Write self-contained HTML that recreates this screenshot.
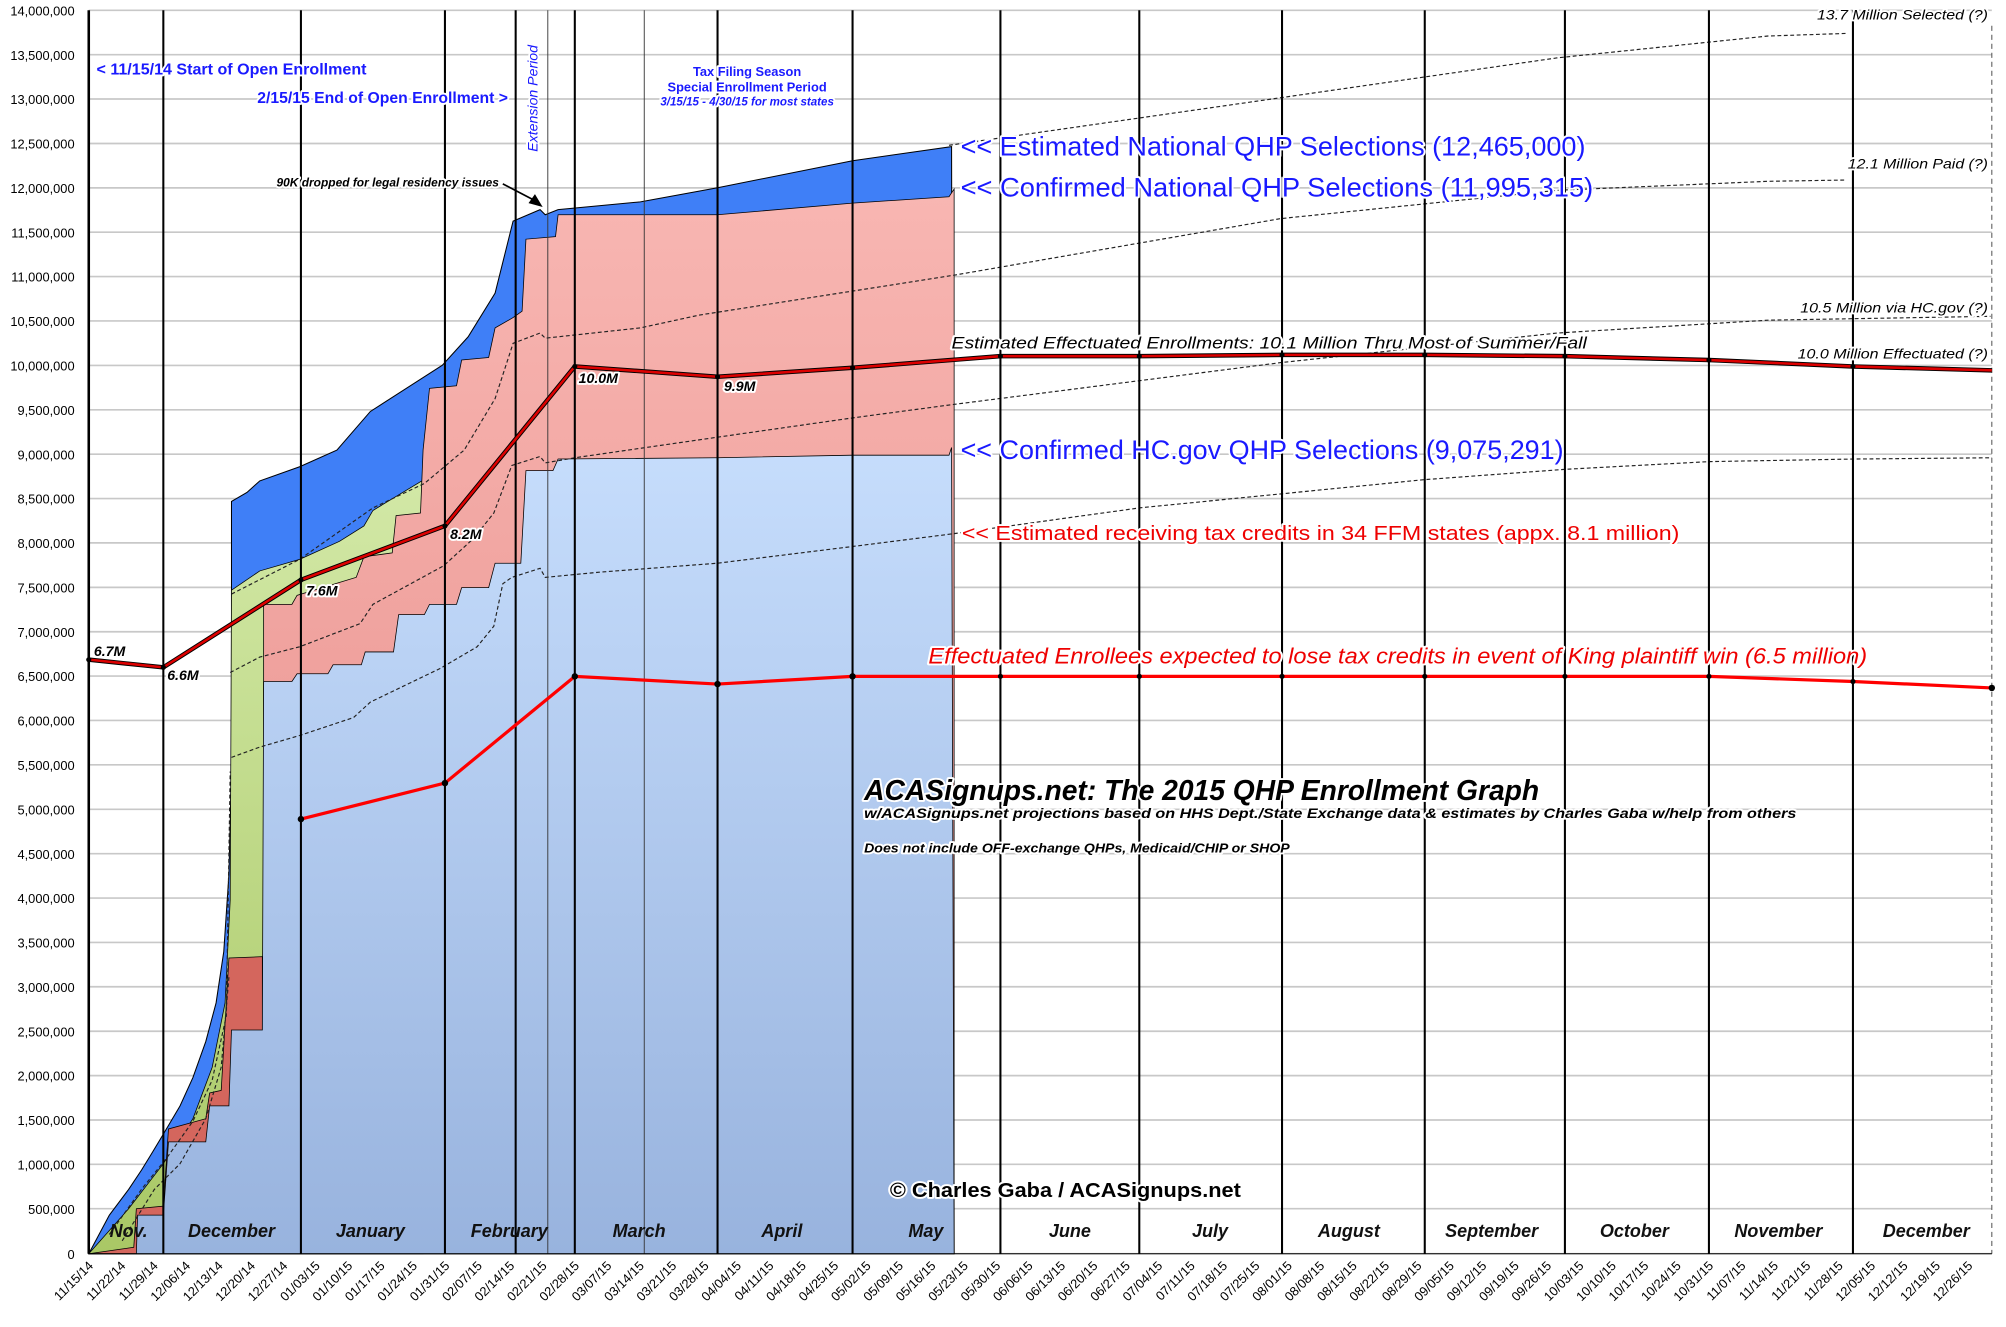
<!DOCTYPE html>
<html><head><meta charset="utf-8"><style>
html,body{margin:0;padding:0;background:#fff;}
svg{display:block;}
text{font-family:"Liberation Sans",sans-serif;}
.h{paint-order:stroke;stroke:#fff;stroke-width:3;stroke-linejoin:round;}
.yl{font-size:10px;text-anchor:end;fill:#000;}
.xl{font-size:10px;text-anchor:end;fill:#000;}
.mo{font-size:14px;font-weight:bold;font-style:italic;text-anchor:middle;fill:#111;}
.rl{font-size:11px;font-style:italic;text-anchor:end;fill:#000;}
</style></head><body>
<svg width="2006" height="1327" viewBox="0 0 1560 1032" xmlns="http://www.w3.org/2000/svg">
<defs>
<linearGradient id="lb" x1="0" y1="0" x2="0" y2="1"><stop offset="0" stop-color="#c6ddfc"/><stop offset="1" stop-color="#98b3de"/></linearGradient>
<linearGradient id="pk" x1="0" y1="0" x2="0" y2="1"><stop offset="0" stop-color="#f8b6b2"/><stop offset="1" stop-color="#e58985"/></linearGradient>
<linearGradient id="gr" x1="0" y1="0" x2="0" y2="1"><stop offset="0" stop-color="#d2e8a6"/><stop offset="1" stop-color="#a9c865"/></linearGradient>
</defs>
<!-- gridlines -->
<g stroke="#c8c8c8" stroke-width="1.3">
<line x1="69" x2="1549" y1="8" y2="8"/><line x1="69" x2="1549" y1="42.5" y2="42.5"/><line x1="69" x2="1549" y1="77" y2="77"/><line x1="69" x2="1549" y1="111.6" y2="111.6"/><line x1="69" x2="1549" y1="146.1" y2="146.1"/><line x1="69" x2="1549" y1="180.6" y2="180.6"/><line x1="69" x2="1549" y1="215.1" y2="215.1"/><line x1="69" x2="1549" y1="249.6" y2="249.6"/><line x1="69" x2="1549" y1="284.2" y2="284.2"/><line x1="69" x2="1549" y1="318.7" y2="318.7"/><line x1="69" x2="1549" y1="353.2" y2="353.2"/><line x1="69" x2="1549" y1="387.7" y2="387.7"/><line x1="69" x2="1549" y1="422.2" y2="422.2"/><line x1="69" x2="1549" y1="456.8" y2="456.8"/><line x1="69" x2="1549" y1="491.3" y2="491.3"/><line x1="69" x2="1549" y1="525.8" y2="525.8"/><line x1="69" x2="1549" y1="560.3" y2="560.3"/><line x1="69" x2="1549" y1="594.8" y2="594.8"/><line x1="69" x2="1549" y1="629.4" y2="629.4"/><line x1="69" x2="1549" y1="663.9" y2="663.9"/><line x1="69" x2="1549" y1="698.4" y2="698.4"/><line x1="69" x2="1549" y1="732.9" y2="732.9"/><line x1="69" x2="1549" y1="767.4" y2="767.4"/><line x1="69" x2="1549" y1="802" y2="802"/><line x1="69" x2="1549" y1="836.5" y2="836.5"/><line x1="69" x2="1549" y1="871" y2="871"/><line x1="69" x2="1549" y1="905.5" y2="905.5"/><line x1="69" x2="1549" y1="940" y2="940"/><line x1="69" x2="1549" y1="975" y2="975"/>
</g>
<g class="yl">
<text x="58" y="12">14,000,000</text><text x="58" y="46.5">13,500,000</text><text x="58" y="81">13,000,000</text><text x="58" y="115.6">12,500,000</text><text x="58" y="150.1">12,000,000</text><text x="58" y="184.6">11,500,000</text><text x="58" y="219.1">11,000,000</text><text x="58" y="253.6">10,500,000</text><text x="58" y="288.2">10,000,000</text><text x="58" y="322.7">9,500,000</text><text x="58" y="357.2">9,000,000</text><text x="58" y="391.7">8,500,000</text><text x="58" y="426.2">8,000,000</text><text x="58" y="460.8">7,500,000</text><text x="58" y="495.3">7,000,000</text><text x="58" y="529.8">6,500,000</text><text x="58" y="564.3">6,000,000</text><text x="58" y="598.8">5,500,000</text><text x="58" y="633.4">5,000,000</text><text x="58" y="667.9">4,500,000</text><text x="58" y="702.4">4,000,000</text><text x="58" y="736.9">3,500,000</text><text x="58" y="771.4">3,000,000</text><text x="58" y="806">2,500,000</text><text x="58" y="840.5">2,000,000</text><text x="58" y="875">1,500,000</text><text x="58" y="909.5">1,000,000</text><text x="58" y="944">500,000</text><text x="58" y="979">0</text>
</g>
<!-- areas -->
<polygon fill="#3f7ff7" stroke="#000" stroke-width="0.8" points="69,975 85,945 100,925 110,910 118,897 127,882 140,860 150,838 160,810 168,780 174,740 178,680 180,600 180,390 192,383 202,374 233,363 262,350 288,320 344,284 364,262 385,228 399,172 420,163 424,167 434,163 498,157 558,146 663,125 740,114 742,975"/>
<polygon fill="url(#gr)" stroke="#000" stroke-width="0.6" points="69,975 100,940 127,905 150,870 165,830 175,780 179,700 180,459 202,444 233,435 264,421 283,409 290,397 328,374 329,975"/>
<polygon fill="url(#pk)" stroke="#000" stroke-width="0.6" points="205,470 227,470 231,463 277,449 283,433 305,430 308,401 327,399 329,350 334,302 355,300 359,280 380,278 385,255 399,247 406,242 409,186 432,184 434,167 558,167 663,158 738,153 742,147 742,975 205,975"/>
<polygon fill="#d4665d" stroke="#000" stroke-width="0.6" points="69,975 104,970 106,940 127,938 131,878 160,870 163,850 172,848 178,745 204,744 204,975"/>
<polygon fill="url(#lb)" stroke="#000" stroke-width="0.6" points="69,975 106,975 107,945 127,945 131,888 160,888 163,860 178,860 180,801 204,801 205,530 227,530 231,524 255,524 259,517 281,517 284,507 306,507 310,478 330,478 334,470 355,470 359,457 380,457 385,438 405,438 409,366 430,366 434,357 558,356 663,354 738,354 740,348 742,975"/>
<!-- dashed -->
<g fill="none" stroke="#222" stroke-width="0.9" stroke-dasharray="3,2">
<polyline points="180,462 233,435 290,395 330,376 361,350 385,310 399,267 420,259 424,263 498,255 544,245 742,214 996,170 1211,148 1375,141 1436,140"/>
<polyline points="179,523 202,511 233,503 280,485 290,470 345,440 368,419 384,399 398,362 420,355 424,360 447,356 558,340 663,325 738,315 996,282 1211,259 1375,249 1548,246"/>
<polyline points="180,589 202,581 233,572 275,558 288,546 342,520 371,503 384,487 391,454 398,449 420,442 424,449 466,445 558,438 663,425 742,415 886,395 997,384 1108,373 1217,365 1329,359 1441,357 1549,356"/>
<polyline points="738,113 996,76 1211,45 1375,28 1436,26"/>
<polyline points="85,960 110,925 130,900 150,872 165,840 176,790 179,600"/>
<polyline points="95,965 120,925 140,905 160,870 172,830 178,760"/>
</g>
<!-- vertical lines -->
<g stroke="#000" stroke-width="1.6">
<line x1="69" y1="8" x2="69" y2="975" stroke-width="2"/>
<line x1="127" y1="8" x2="127" y2="975"/><line x1="234" y1="8" x2="234" y2="975"/><line x1="346" y1="8" x2="346" y2="975"/><line x1="401" y1="8" x2="401" y2="975"/><line x1="447" y1="8" x2="447" y2="975"/><line x1="558" y1="8" x2="558" y2="975"/><line x1="663" y1="8" x2="663" y2="975"/><line x1="778" y1="8" x2="778" y2="975"/><line x1="886" y1="8" x2="886" y2="975"/><line x1="997" y1="8" x2="997" y2="975"/><line x1="1108" y1="8" x2="1108" y2="975"/><line x1="1217" y1="8" x2="1217" y2="975"/><line x1="1329" y1="8" x2="1329" y2="975"/><line x1="1441" y1="8" x2="1441" y2="975"/>
</g>
<g stroke="#333" stroke-width="0.7"><line x1="426" y1="8" x2="426" y2="975"/><line x1="501" y1="8" x2="501" y2="975"/></g>
<line x1="1549" y1="20" x2="1549" y2="975" stroke="#555" stroke-width="0.8" stroke-dasharray="4,3"/>
<!-- red lines -->
<polyline fill="none" stroke="#000" stroke-width="3.5" points="69,513 127,519 234,451 346,409 447,285 558,293 663,286 778,277 886,277 997,276 1108,276 1217,277 1329,280 1441,285 1549,288"/>
<polyline fill="none" stroke="#d00" stroke-width="2" points="69,513 127,519 234,451 346,409 447,285 558,293 663,286 778,277 886,277 997,276 1108,276 1217,277 1329,280 1441,285 1549,288"/>
<polyline fill="none" stroke="#f00" stroke-width="2.5" points="234,637 346,609 447,526 558,532 663,526 778,526 886,526 997,526 1108,526 1217,526 1329,526 1441,530 1549,535"/>
<g fill="#000"><circle cx="234" cy="637" r="2.5"/><circle cx="346" cy="609" r="2.5"/><circle cx="447" cy="526" r="2.5"/><circle cx="558" cy="532" r="2.5"/><circle cx="663" cy="526" r="2.5"/><circle cx="778" cy="526" r="2"/><circle cx="886" cy="526" r="2"/><circle cx="997" cy="526" r="2"/><circle cx="1108" cy="526" r="2"/><circle cx="1217" cy="526" r="2"/><circle cx="1329" cy="526" r="2"/><circle cx="1441" cy="530" r="2"/><circle cx="1549" cy="535" r="2.5"/>
<circle cx="69" cy="513" r="2"/><circle cx="127" cy="519" r="2"/><circle cx="234" cy="451" r="2"/><circle cx="346" cy="409" r="2"/><circle cx="447" cy="285" r="2"/><circle cx="558" cy="293" r="2"/><circle cx="663" cy="286" r="2"/><circle cx="778" cy="277" r="2"/><circle cx="886" cy="277" r="2"/><circle cx="997" cy="276" r="2"/><circle cx="1108" cy="276" r="2"/><circle cx="1217" cy="277" r="2"/><circle cx="1329" cy="280" r="2"/><circle cx="1441" cy="285" r="2"/></g>
<g font-size="11" font-weight="bold" font-style="italic" fill="#000" class="h">
<text x="73" y="510">6.7M</text><text x="130" y="529">6.6M</text><text x="238" y="463">7.6M</text><text x="350" y="419">8.2M</text><text x="450" y="298">10.0M</text><text x="563" y="304">9.9M</text>
</g>
<!-- month labels -->
<g class="mo">
<text x="100" y="962">Nov.</text><text x="180" y="962">December</text><text x="288" y="962">January</text><text x="396" y="962">February</text><text x="497" y="962">March</text><text x="608" y="962">April</text><text x="720" y="962">May</text><text x="832" y="962">June</text><text x="941" y="962">July</text><text x="1049" y="962">August</text><text x="1160" y="962">September</text><text x="1271" y="962">October</text><text x="1383" y="962">November</text><text x="1498" y="962">December</text>
</g>
<!-- x tick labels -->
<g class="xl">
<text transform="translate(73,985) rotate(-45)">11/15/14</text><text transform="translate(98.2,985) rotate(-45)">11/22/14</text><text transform="translate(123.4,985) rotate(-45)">11/29/14</text><text transform="translate(148.6,985) rotate(-45)">12/06/14</text><text transform="translate(173.8,985) rotate(-45)">12/13/14</text><text transform="translate(199,985) rotate(-45)">12/20/14</text><text transform="translate(224.2,985) rotate(-45)">12/27/14</text><text transform="translate(249.4,985) rotate(-45)">01/03/15</text><text transform="translate(274.6,985) rotate(-45)">01/10/15</text><text transform="translate(299.8,985) rotate(-45)">01/17/15</text><text transform="translate(325,985) rotate(-45)">01/24/15</text><text transform="translate(350.2,985) rotate(-45)">01/31/15</text><text transform="translate(375.4,985) rotate(-45)">02/07/15</text><text transform="translate(400.6,985) rotate(-45)">02/14/15</text><text transform="translate(425.8,985) rotate(-45)">02/21/15</text><text transform="translate(451,985) rotate(-45)">02/28/15</text><text transform="translate(476.2,985) rotate(-45)">03/07/15</text><text transform="translate(501.4,985) rotate(-45)">03/14/15</text><text transform="translate(526.6,985) rotate(-45)">03/21/15</text><text transform="translate(551.8,985) rotate(-45)">03/28/15</text><text transform="translate(577,985) rotate(-45)">04/04/15</text><text transform="translate(602.2,985) rotate(-45)">04/11/15</text><text transform="translate(627.4,985) rotate(-45)">04/18/15</text><text transform="translate(652.6,985) rotate(-45)">04/25/15</text><text transform="translate(677.8,985) rotate(-45)">05/02/15</text><text transform="translate(703,985) rotate(-45)">05/09/15</text><text transform="translate(728.2,985) rotate(-45)">05/16/15</text><text transform="translate(753.4,985) rotate(-45)">05/23/15</text><text transform="translate(778.6,985) rotate(-45)">05/30/15</text><text transform="translate(803.8,985) rotate(-45)">06/06/15</text><text transform="translate(829,985) rotate(-45)">06/13/15</text><text transform="translate(854.2,985) rotate(-45)">06/20/15</text><text transform="translate(879.4,985) rotate(-45)">06/27/15</text><text transform="translate(904.6,985) rotate(-45)">07/04/15</text><text transform="translate(929.8,985) rotate(-45)">07/11/15</text><text transform="translate(955,985) rotate(-45)">07/18/15</text><text transform="translate(980.2,985) rotate(-45)">07/25/15</text><text transform="translate(1005.4,985) rotate(-45)">08/01/15</text><text transform="translate(1030.6,985) rotate(-45)">08/08/15</text><text transform="translate(1055.8,985) rotate(-45)">08/15/15</text><text transform="translate(1081,985) rotate(-45)">08/22/15</text><text transform="translate(1106.2,985) rotate(-45)">08/29/15</text><text transform="translate(1131.4,985) rotate(-45)">09/05/15</text><text transform="translate(1156.6,985) rotate(-45)">09/12/15</text><text transform="translate(1181.8,985) rotate(-45)">09/19/15</text><text transform="translate(1207,985) rotate(-45)">09/26/15</text><text transform="translate(1232.2,985) rotate(-45)">10/03/15</text><text transform="translate(1257.4,985) rotate(-45)">10/10/15</text><text transform="translate(1282.6,985) rotate(-45)">10/17/15</text><text transform="translate(1307.8,985) rotate(-45)">10/24/15</text><text transform="translate(1333,985) rotate(-45)">10/31/15</text><text transform="translate(1358.2,985) rotate(-45)">11/07/15</text><text transform="translate(1383.4,985) rotate(-45)">11/14/15</text><text transform="translate(1408.6,985) rotate(-45)">11/21/15</text><text transform="translate(1433.8,985) rotate(-45)">11/28/15</text><text transform="translate(1459,985) rotate(-45)">12/05/15</text><text transform="translate(1484.2,985) rotate(-45)">12/12/15</text><text transform="translate(1509.4,985) rotate(-45)">12/19/15</text><text transform="translate(1534.6,985) rotate(-45)">12/26/15</text>
</g>
<g stroke="#888" stroke-width="0.8">
<line x1="69" y1="975" x2="1549" y2="975" stroke="#000"/>
</g>
<!-- annotations -->
<g font-weight="bold" fill="#1a1aff" class="h">
<text x="75" y="58" font-size="12.5" textLength="210" lengthAdjust="spacingAndGlyphs">&lt; 11/15/14 Start of Open Enrollment</text>
<text x="200" y="80" font-size="12.5" textLength="195" lengthAdjust="spacingAndGlyphs">2/15/15 End of Open Enrollment &gt;</text>
<text transform="translate(418,118) rotate(-90)" font-size="10.5" font-weight="normal" font-style="italic" textLength="83" lengthAdjust="spacingAndGlyphs">Extension Period</text>
<text x="581" y="59" font-size="10" text-anchor="middle">Tax Filing Season</text>
<text x="581" y="71" font-size="10" text-anchor="middle">Special Enrollment Period</text>
<text x="581" y="82" font-size="9" font-style="italic" text-anchor="middle">3/15/15 - 4/30/15 for most states</text>
</g>
<text x="215" y="145" font-size="9" font-weight="bold" font-style="italic" fill="#000" class="h" textLength="173" lengthAdjust="spacingAndGlyphs">90K dropped for legal residency issues</text>
<line x1="391" y1="143" x2="416" y2="156" stroke="#000" stroke-width="1.3"/>
<polygon points="422,161 411,158 416,151" fill="#000"/>
<g font-size="21" fill="#1a1aff" class="h">
<text x="747" y="121" textLength="486" lengthAdjust="spacingAndGlyphs">&lt;&lt; Estimated National QHP Selections (12,465,000)</text>
<text x="747" y="153" textLength="492" lengthAdjust="spacingAndGlyphs">&lt;&lt; Confirmed National QHP Selections (11,995,315)</text>
<text x="747" y="357" textLength="469" lengthAdjust="spacingAndGlyphs">&lt;&lt; Confirmed HC.gov QHP Selections (9,075,291)</text>
</g>
<text x="748" y="420" font-size="16" fill="#ee0000" class="h" textLength="558" lengthAdjust="spacingAndGlyphs">&lt;&lt; Estimated receiving tax credits in 34 FFM states (appx. 8.1 million)</text>
<text x="722" y="516" font-size="17" font-style="italic" fill="#ee0000" class="h" textLength="730" lengthAdjust="spacingAndGlyphs">Effectuated Enrollees expected to lose tax credits in event of King plaintiff win (6.5 million)</text>
<text x="740" y="271" font-size="13" font-style="italic" fill="#000" class="h" textLength="494" lengthAdjust="spacingAndGlyphs">Estimated Effectuated Enrollments: 10.1 Million Thru Most of Summer/Fall</text>
<g class="rl h">
<text x="1546" y="15" textLength="133" lengthAdjust="spacingAndGlyphs">13.7 Million Selected (?)</text>
<text x="1546" y="131" textLength="109" lengthAdjust="spacingAndGlyphs">12.1 Million Paid (?)</text>
<text x="1546" y="243" textLength="146" lengthAdjust="spacingAndGlyphs">10.5 Million via HC.gov (?)</text>
<text x="1546" y="279" textLength="148" lengthAdjust="spacingAndGlyphs">10.0 Million Effectuated (?)</text>
</g>
<g fill="#000" class="h" font-weight="bold" font-style="italic">
<text x="672" y="622" font-size="22" textLength="525" lengthAdjust="spacingAndGlyphs">ACASignups.net: The 2015 QHP Enrollment Graph</text>
<text x="672" y="636" font-size="11" textLength="725" lengthAdjust="spacingAndGlyphs">w/ACASignups.net projections based on HHS Dept./State Exchange data &amp; estimates by Charles Gaba w/help from others</text>
<text x="672" y="663" font-size="10" textLength="331" lengthAdjust="spacingAndGlyphs">Does not include OFF-exchange QHPs, Medicaid/CHIP or SHOP</text>
</g>
<text x="692" y="931" font-size="16" font-weight="bold" fill="#000" class="h" textLength="273" lengthAdjust="spacingAndGlyphs">© Charles Gaba / ACASignups.net</text>
</svg>
</body></html>
